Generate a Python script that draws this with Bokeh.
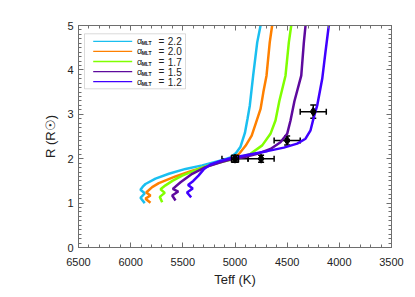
from bokeh.plotting import figure
from bokeh.models import (Range1d, ColumnDataSource, Whisker, Label, BoxAnnotation, Arrow,
                          LinearAxis, SingleIntervalTicker, CustomJSTickFormatter)
from bokeh.embed import file_html
from bokeh.resources import INLINE

# ---------------- data ----------------
alpha_labels = ["2.2", "2.0", "1.7", "1.5", "1.2"]
track_colors = ["#1ABFF0", "#FF8000", "#80FF00", "#5E0A9E", "#4000FF"]

teff_22 = [5865, 5906, 5865, 5906, 5884, 5858, 5762, 5634, 5474, 5314, 5235, 5107, 5043,
           4990, 4947, 4905, 4880, 4858, 4826, 4787, 4755, 4748]
r_22 = [1.00, 1.12, 1.22, 1.30, 1.37, 1.43, 1.55, 1.66, 1.77, 1.85, 1.90, 1.98, 2.03,
        2.13, 2.27, 2.58, 2.90, 3.20, 3.87, 4.62, 5.00, 5.10]

teff_20 = [5810, 5858, 5810, 5851, 5794, 5730, 5570, 5410, 5235, 5123, 5043,
           4964, 4899, 4840, 4800, 4755, 4728, 4698, 4667, 4644, 4638]
r_20 = [1.01, 1.10, 1.17, 1.24, 1.36, 1.45, 1.60, 1.73, 1.85, 1.94, 2.00,
        2.10, 2.29, 2.52, 2.80, 3.12, 3.50, 3.87, 4.62, 5.00, 5.10]

teff_17 = [5698, 5721, 5673, 5714, 5666, 5600, 5506, 5347, 5235, 5075, 4979,
           4851, 4739, 4660, 4612, 4575, 4516, 4484, 4461, 4455]
r_17 = [1.02, 1.14, 1.23, 1.31, 1.40, 1.50, 1.62, 1.77, 1.86, 1.96, 2.01,
        2.11, 2.30, 2.56, 2.86, 3.30, 3.87, 4.62, 5.00, 5.10]

teff_15 = [5570, 5602, 5544, 5596, 5522, 5410, 5283, 5123, 5043, 4915, 4787,
           4660, 4564, 4500, 4468, 4430, 4365, 4340, 4324, 4320]
r_15 = [1.06, 1.17, 1.26, 1.32, 1.47, 1.66, 1.81, 1.93, 1.98, 2.03, 2.11,
        2.22, 2.37, 2.56, 2.86, 3.30, 3.87, 4.62, 5.00, 5.10]

teff_12 = [5420, 5460, 5405, 5450, 5400, 5350, 5300, 5235, 5139, 5043, 4851,
           4691, 4532, 4404, 4324, 4276, 4245, 4212, 4164, 4133, 4101, 4095]
r_12 = [1.13, 1.24, 1.33, 1.41, 1.50, 1.62, 1.76, 1.87, 1.95, 2.01, 2.10,
        2.17, 2.25, 2.34, 2.45, 2.64, 2.93, 3.20, 3.80, 4.40, 5.00, 5.10]

tracks_teff = [teff_22, teff_20, teff_17, teff_15, teff_12]
tracks_r = [r_22, r_20, r_17, r_15, r_12]

obs_teff = [5000, 4750, 4500, 4250]
obs_r = [2.00, 2.00, 2.41, 3.06]
obs_teff_err = [125, 125, 125, 125]
obs_r_err = [0.05, 0.08, 0.10, 0.15]

ref_teff = [5000]
ref_r = [2.00]

x_ticks_interval = 500
y_ticks_interval = 1

# ---------------- figure ----------------
AX = "#6e6e6e"
TXT = "#222222"
FONT = "Liberation Sans"

p = figure(width=407, height=289, output_backend="svg", toolbar_location=None,
           x_range=Range1d(6500, 3500), y_range=Range1d(0, 5),
           min_border_left=78, min_border_right=16, min_border_top=25, min_border_bottom=42)
p.grid.visible = False
p.outline_line_color = AX
p.background_fill_color = "white"
p.border_fill_color = "white"

for i in range(len(tracks_teff)):
    p.line(tracks_teff[i], tracks_r[i], line_color=track_colors[i], line_width=2.5)

# error bars
src = ColumnDataSource(dict(
    t=obs_teff, r=obs_r,
    tl=[t - e for t, e in zip(obs_teff, obs_teff_err)],
    tu=[t + e for t, e in zip(obs_teff, obs_teff_err)],
    rl=[r - e for r, e in zip(obs_r, obs_r_err)],
    ru=[r + e for r, e in zip(obs_r, obs_r_err)],
))
wx = Whisker(source=src, base="r", lower="tl", upper="tu", dimension="width",
             line_color="black", line_width=1.5)
wy = Whisker(source=src, base="t", lower="rl", upper="ru", dimension="height",
             line_color="black", line_width=1.5)
for w in (wx, wy):
    w.upper_head.size = 6
    w.lower_head.size = 6
    w.upper_head.line_color = "black"
    w.lower_head.line_color = "black"
    w.upper_head.line_width = 1.5
    w.lower_head.line_width = 1.5
p.add_layout(wx)
p.add_layout(wy)
p.scatter("t", "r", source=src, marker="diamond", size=9, fill_color="black", line_color="black")
p.scatter(ref_teff, ref_r, marker="square", size=7, fill_color=None, line_color="black", line_width=1.5)

# axes
def style_axis(ax, labels=True):
    ax.axis_line_color = AX
    ax.major_tick_line_color = AX
    ax.minor_tick_line_color = AX
    ax.major_tick_in = 5
    ax.major_tick_out = 0
    ax.minor_tick_in = 3
    ax.minor_tick_out = 0
    ax.major_label_text_font = FONT
    ax.major_label_text_font_size = "11px"
    ax.major_label_text_color = TXT
    ax.axis_label_text_font = FONT
    ax.axis_label_text_font_size = "13px"
    ax.axis_label_text_font_style = "normal"
    ax.axis_label_text_color = TXT
    if not labels:
        ax.formatter = CustomJSTickFormatter(code="return ''")
        ax.major_label_standoff = 0

p.xaxis.ticker = SingleIntervalTicker(interval=x_ticks_interval, num_minor_ticks=5)
p.yaxis.ticker = SingleIntervalTicker(interval=y_ticks_interval, num_minor_ticks=10)
p.xaxis.axis_label = "Teff (K)"
p.yaxis.axis_label = "R (R\u2609)"
style_axis(p.xaxis[0])
style_axis(p.yaxis[0])
p.xaxis.major_label_standoff = 10
p.xaxis.axis_label_standoff = 3
p.yaxis.major_label_standoff = 5
p.yaxis.axis_label_standoff = 6

top = LinearAxis(ticker=SingleIntervalTicker(interval=x_ticks_interval, num_minor_ticks=5))
right = LinearAxis(ticker=SingleIntervalTicker(interval=y_ticks_interval, num_minor_ticks=10))
style_axis(top, labels=False)
style_axis(right, labels=False)
p.add_layout(top, "above")
p.add_layout(right, "right")

# legend (custom, screen units relative to the frame)
box_left, box_right, box_top, box_bottom = 6, 107, 213.7, 158.7
p.add_layout(BoxAnnotation(left=box_left, right=box_right, top=box_top, bottom=box_bottom,
                           left_units="screen", right_units="screen",
                           top_units="screen", bottom_units="screen",
                           fill_color="white", fill_alpha=1.0,
                           line_color="#888888", line_width=1, level="overlay"))
for i, lab in enumerate(alpha_labels):
    ry = box_top - 7.5 - i * 10.1
    p.add_layout(Arrow(x_start=14.7, y_start=ry, x_end=53.7, y_end=ry,
                       start_units="screen", end_units="screen", end=None, start=None,
                       line_color=track_colors[i], line_width=1.3, level="overlay"))
    p.add_layout(Label(x=58.5, y=ry, x_units="screen", y_units="screen", text="\u03b1",
                       text_font=FONT, text_font_size="9px", text_color=TXT,
                       text_baseline="middle", level="overlay"))
    p.add_layout(Label(x=63.2, y=ry - 2, x_units="screen", y_units="screen", text="MLT",
                       text_font=FONT, text_font_size="5px", text_font_style="bold",
                       text_color=TXT, text_baseline="middle", level="overlay"))
    p.add_layout(Label(x=80.0, y=ry, x_units="screen", y_units="screen", text="=",
                       text_font=FONT, text_font_size="10px", text_color=TXT,
                       text_baseline="middle", level="overlay"))
    p.add_layout(Label(x=89.3, y=ry, x_units="screen", y_units="screen", text=lab,
                       text_font=FONT, text_font_size="10px", text_color=TXT,
                       text_baseline="middle", level="overlay"))

open("out.html", "w").write(file_html(p, INLINE))
